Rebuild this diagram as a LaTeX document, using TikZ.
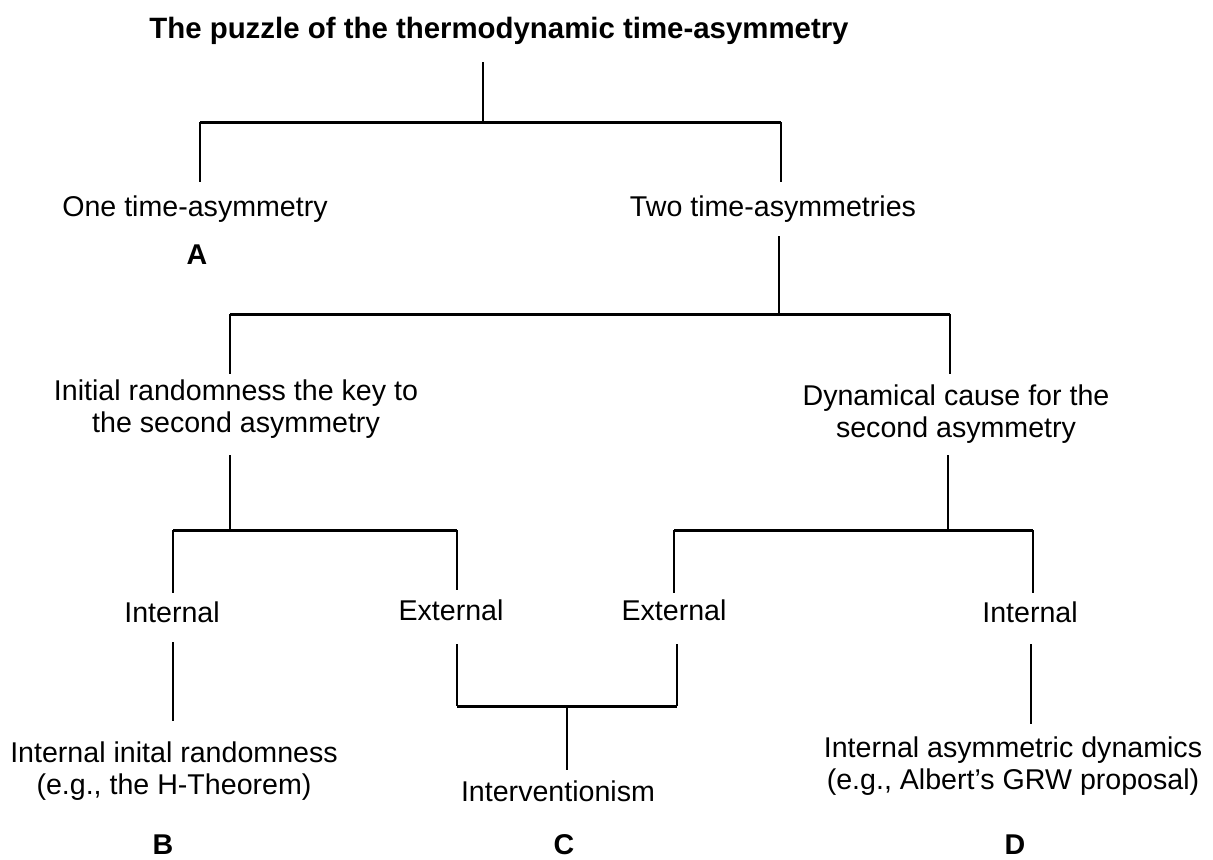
\documentclass[tikz,border=0pt]{standalone}
\usepackage{fontspec}
\setmainfont{Liberation Sans}
\begin{document}
\begin{tikzpicture}[x=0.5pt,y=-0.5pt,
  lbl/.style={inner sep=0pt,align=center,font=\fontsize{14.3}{16}\selectfont},
  blbl/.style={lbl,font=\fontsize{14.3}{16}\selectfont\bfseries},
  tlbl/.style={lbl,font=\fontsize{14.7}{16}\selectfont\bfseries},
  vl/.style={line width=1pt},
  hl/.style={line width=1.5pt}]
\useasboundingbox (0,0) rectangle (1213,859);
% texts
\node[tlbl] (title) at (499,31) {The puzzle of the thermodynamic time-asymmetry};
\node[lbl] (one) at (195,209) {One time-asymmetry};
\node[lbl] (two) at (773,209) {Two time-asymmetries};
\node[blbl] (A) at (197,255) {A};
\node[lbl] (init) at (236,409) {Initial randomness the key to\\the second asymmetry};
\node[lbl] (dyn) at (956,414) {Dynamical cause for the\\second asymmetry};
\node[lbl] (int1) at (172,612) {Internal};
\node[lbl] (ext1) at (451,610) {External};
\node[lbl] (ext2) at (674,610) {External};
\node[lbl] (int2) at (1030,612) {Internal};
\node[lbl] (iir) at (174,771) {Internal inital randomness\\(e.g., the H-Theorem)};
\node[lbl] (intv) at (558,791) {Interventionism};
\node[lbl] (iad) at (1013,766) {Internal asymmetric dynamics\\(e.g., Albert's GRW proposal)};
\node[blbl] (B) at (163,845) {B};
\node[blbl] (C) at (564,845) {C};
\node[blbl] (D) at (1015,845) {D};
% coordinates
\coordinate (t0) at (483,62);
\coordinate (t1) at (483,122);
\coordinate (b1l) at (200,122);
\coordinate (b1r) at (781,122);
\coordinate (one0) at (200,182);
\coordinate (two0) at (781,182);
\coordinate (two1) at (779,236);
\coordinate (two2) at (779,314);
\coordinate (b2l) at (230,314);
\coordinate (b2r) at (950,314);
\coordinate (init0) at (230,374);
\coordinate (dyn0) at (950,374);
\coordinate (init1) at (230,455);
\coordinate (init2) at (230,530);
\coordinate (dyn1) at (948,455);
\coordinate (dyn2) at (948,530);
\coordinate (b3l) at (173,530);
\coordinate (b3r) at (457,530);
\coordinate (b4l) at (674,530);
\coordinate (b4r) at (1033,530);
\coordinate (int1a) at (173,593);
\coordinate (ext1a) at (457,590);
\coordinate (ext2a) at (674,593);
\coordinate (int2a) at (1033,593);
\coordinate (int1b) at (173,642);
\coordinate (int1c) at (173,721);
\coordinate (ext1b) at (457,644);
\coordinate (ext1c) at (457,706);
\coordinate (ext2b) at (677,644);
\coordinate (ext2c) at (677,706);
\coordinate (m1) at (567,706);
\coordinate (m2) at (567,770);
\coordinate (int2b) at (1031,644);
\coordinate (int2c) at (1031,724);
% connectors
\draw[vl] (t0) -- (t1);
\draw[hl] (b1l) -- (b1r);
\draw[vl] (b1l) -- (one0);
\draw[vl] (b1r) -- (two0);
\draw[vl] (two1) -- (two2);
\draw[hl] (b2l) -- (b2r);
\draw[vl] (b2l) -- (init0);
\draw[vl] (b2r) -- (dyn0);
\draw[vl] (init1) -- (init2);
\draw[vl] (dyn1) -- (dyn2);
\draw[hl] (b3l) -- (b3r);
\draw[hl] (b4l) -- (b4r);
\draw[vl] (b3l) -- (int1a);
\draw[vl] (b3r) -- (ext1a);
\draw[vl] (b4l) -- (ext2a);
\draw[vl] (b4r) -- (int2a);
\draw[vl] (int1b) -- (int1c);
\draw[vl] (ext1b) -- (ext1c);
\draw[vl] (ext2b) -- (ext2c);
\draw[hl] (ext1c) -- (ext2c);
\draw[vl] (m1) -- (m2);
\draw[vl] (int2b) -- (int2c);
\end{tikzpicture}
\end{document}
